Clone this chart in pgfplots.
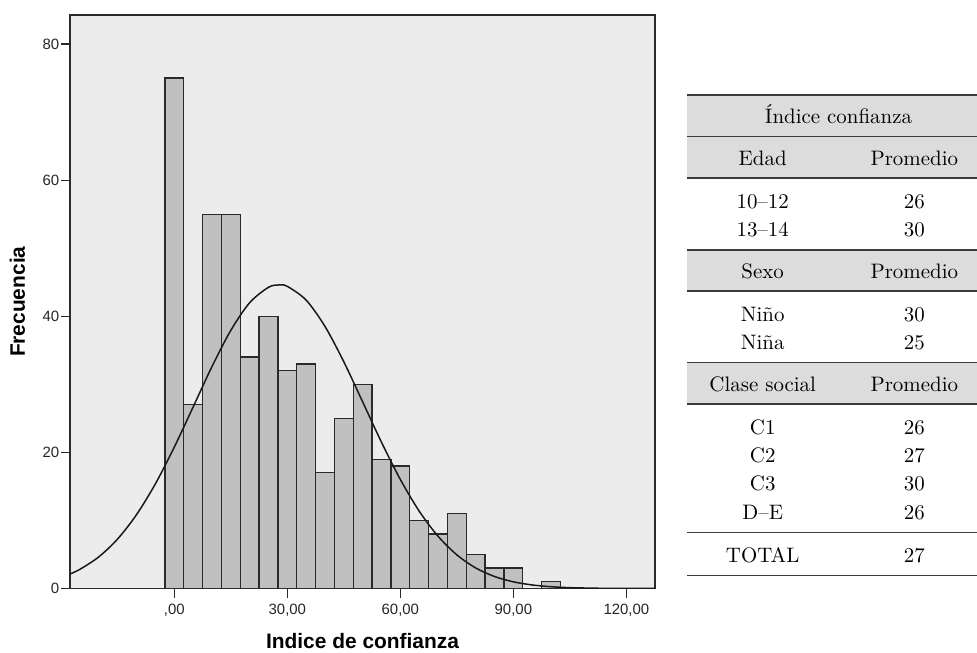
\documentclass[border=0pt]{standalone}
\usepackage{pgfplots}
\usepackage{pgfplotstable}
\pgfplotsset{compat=1.18}
\usepackage{fontspec}
\newfontfamily\arial{Liberation Sans}
\newfontfamily\tabfont{lmroman10-regular}[Extension=.otf, Ligatures=TeX]

\definecolor{panelbg}{HTML}{ECECEC}
\definecolor{barfill}{HTML}{C0C0C0}
\definecolor{edge}{HTML}{2A2A2A}
\definecolor{rowshade}{HTML}{DCDCDC}
\definecolor{rulegrey}{HTML}{3C3C3C}

% histogram: left edge of each bin (width 5), count
\pgfplotstableread{
left count
-2.5 75
2.5 27
7.5 55
12.5 55
17.5 34
22.5 40
27.5 32
32.5 33
37.5 17
42.5 25
47.5 30
52.5 19
57.5 18
62.5 10
67.5 8
72.5 11
77.5 5
82.5 3
87.5 3
92.5 0
97.5 1
102.5 0
}\histdata

% fitted normal curve
\pgfplotstableread{
x y
-27.7 2.13
-25 2.84
-20 4.67
-15 7.31
-10 10.88
-5 15.41
0 20.79
5 26.69
10 32.62
15 37.94
20 42.00
25 44.26
27.8 44.60
30 44.39
35 42.37
40 38.50
45 33.30
50 27.41
55 21.48
60 16.02
65 11.37
70 7.68
75 4.94
80 3.02
85 1.76
90 0.98
95 0.52
100 0.26
105 0.12
110 0.06
115 0.02
120 0.01
127.6 0.00
}\curvedata

\begin{document}
\begin{tikzpicture}
\useasboundingbox (0,0) rectangle (977bp,653bp);

\begin{axis}[
    at={(70bp,64.5bp)}, anchor=south west,
    width=585bp, height=573.5bp, scale only axis,
    xmin=-27.7, xmax=127.6, ymin=0, ymax=84.27,
    axis background/.style={fill=panelbg},
    axis line style={edge, line width=1.3bp},
    xtick={0,30,60,90,120},
    xticklabels={{,00},{30,00},{60,00},{90,00},{120,00}},
    ytick={0,20,40,60,80},
    tick align=outside, xtick pos=left, ytick pos=left,
    major tick length=9bp,
    tick style={edge, line width=1.3bp},
    ticklabel style={font=\arial\fontsize{15}{15}\selectfont, text=black!85},
    xticklabel style={yshift=-3bp},
    yticklabel style={inner xsep=1.5bp},
    /pgf/number format/assume math mode=true,
    xlabel={Indice de confianza}, ylabel={Frecuencia},
    label style={font=\arial\bfseries\fontsize{21}{21}\selectfont},
    xlabel style={at={(axis description cs:0.5,-0.1038)}, anchor=base},
    ylabel style={at={(axis description cs:-0.0897,0.5)}, anchor=center},
]
\addplot[ybar interval, fill=barfill, draw=edge, line width=1.35bp]
    table[x=left, y=count] {\histdata};
\addplot[smooth, no markers, black!90, line width=1.5bp]
    table[x=x, y=y] {\curvedata};
\end{axis}

% summary table
\begin{scope}[x=1bp, y=-1bp, shift={(0bp,653bp)},
    every node/.style={anchor=base, inner sep=0pt, font=\tabfont\fontsize{21}{21}\selectfont}]
\fill[rowshade] (687,95) rectangle (977,178.3);
\fill[rowshade] (687,250) rectangle (977,291);
\fill[rowshade] (687,362.7) rectangle (977,404);
\foreach \ry in {95,136.7,178.3,250,291,362.7,404,532.7,575.7}
    \draw[rulegrey, line width=1.6bp] (687,\ry) -- (977,\ry);

\node at (838.5,124) {Índice confianza};
\node at (762.7,165.7) {Edad};         \node at (914.3,165.7) {Promedio};
\node at (762.7,208.3) {10–12};        \node at (914.3,208.3) {26};
\node at (762.7,236.7) {13–14};        \node at (914.3,236.7) {30};
\node at (762.7,278.3) {Sexo};         \node at (914.3,278.3) {Promedio};
\node at (762.7,321.7) {Niño};         \node at (914.3,321.7) {30};
\node at (762.7,349.3) {Niña};         \node at (914.3,349.3) {25};
\node at (762.7,391.7) {Clase social}; \node at (914.3,391.7) {Promedio};
\node at (762.7,434.3) {C1};           \node at (914.3,434.3) {26};
\node at (762.7,462.3) {C2};           \node at (914.3,462.3) {27};
\node at (762.7,491) {C3};             \node at (914.3,491) {30};
\node at (762.7,519.3) {D–E};          \node at (914.3,519.3) {26};
\node at (762.7,562.7) {TOTAL};        \node at (914.3,562.7) {27};
\end{scope}
\end{tikzpicture}
\end{document}
